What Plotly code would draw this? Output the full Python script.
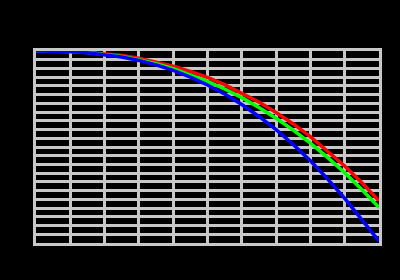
import plotly.graph_objects as go

x_vals = [0.0, 0.05, 0.1, 0.15, 0.2, 0.25, 0.3, 0.35, 0.4, 0.45, 0.5,
          0.55, 0.6, 0.65, 0.7, 0.75, 0.8, 0.85, 0.9, 0.95, 1.0]
red_vals = [1.0, 1.0, 0.998, 0.993, 0.986, 0.976, 0.962, 0.943, 0.921, 0.894, 0.862,
            0.825, 0.782, 0.734, 0.680, 0.620, 0.554, 0.480, 0.401, 0.314, 0.22]
green_vals = [1.0, 1.0, 0.997, 0.992, 0.984, 0.972, 0.955, 0.934, 0.908, 0.877, 0.842,
              0.802, 0.757, 0.706, 0.650, 0.588, 0.520, 0.446, 0.366, 0.279, 0.185]
blue_vals = [1.0, 0.999, 0.997, 0.991, 0.982, 0.969, 0.951, 0.928, 0.899, 0.864, 0.823,
             0.776, 0.721, 0.659, 0.590, 0.513, 0.428, 0.334, 0.232, 0.120, 0.01]
x_grid = [i / 10 for i in range(11)]
y_grid = [i / 22 for i in range(23)]

fig = go.Figure()
for vals, col in [(red_vals, "#ff0000"), (green_vals, "#00ff00"), (blue_vals, "#0000ff")]:
    fig.add_trace(go.Scatter(x=x_vals, y=vals, mode="lines",
                             line=dict(color=col, width=3.5), showlegend=False))

grid = "#c8c8c8"
fig.update_xaxes(range=[0, 1], tickmode="array", tickvals=x_grid, showgrid=True,
                 gridcolor=grid, gridwidth=3,
                 zeroline=False, showticklabels=False, ticks="",
                 showline=True, linecolor=grid, linewidth=3, mirror=True)
fig.update_yaxes(range=[0, 1], tickmode="array", tickvals=y_grid, showgrid=True,
                 gridcolor=grid, gridwidth=2.5,
                 zeroline=False, showticklabels=False, ticks="",
                 showline=True, linecolor=grid, linewidth=3, mirror=True)
fig.update_layout(width=400, height=280, paper_bgcolor="black", plot_bgcolor="black",
                  margin=dict(l=36, r=21, t=51, b=37))
fig.write_html("out.html")
